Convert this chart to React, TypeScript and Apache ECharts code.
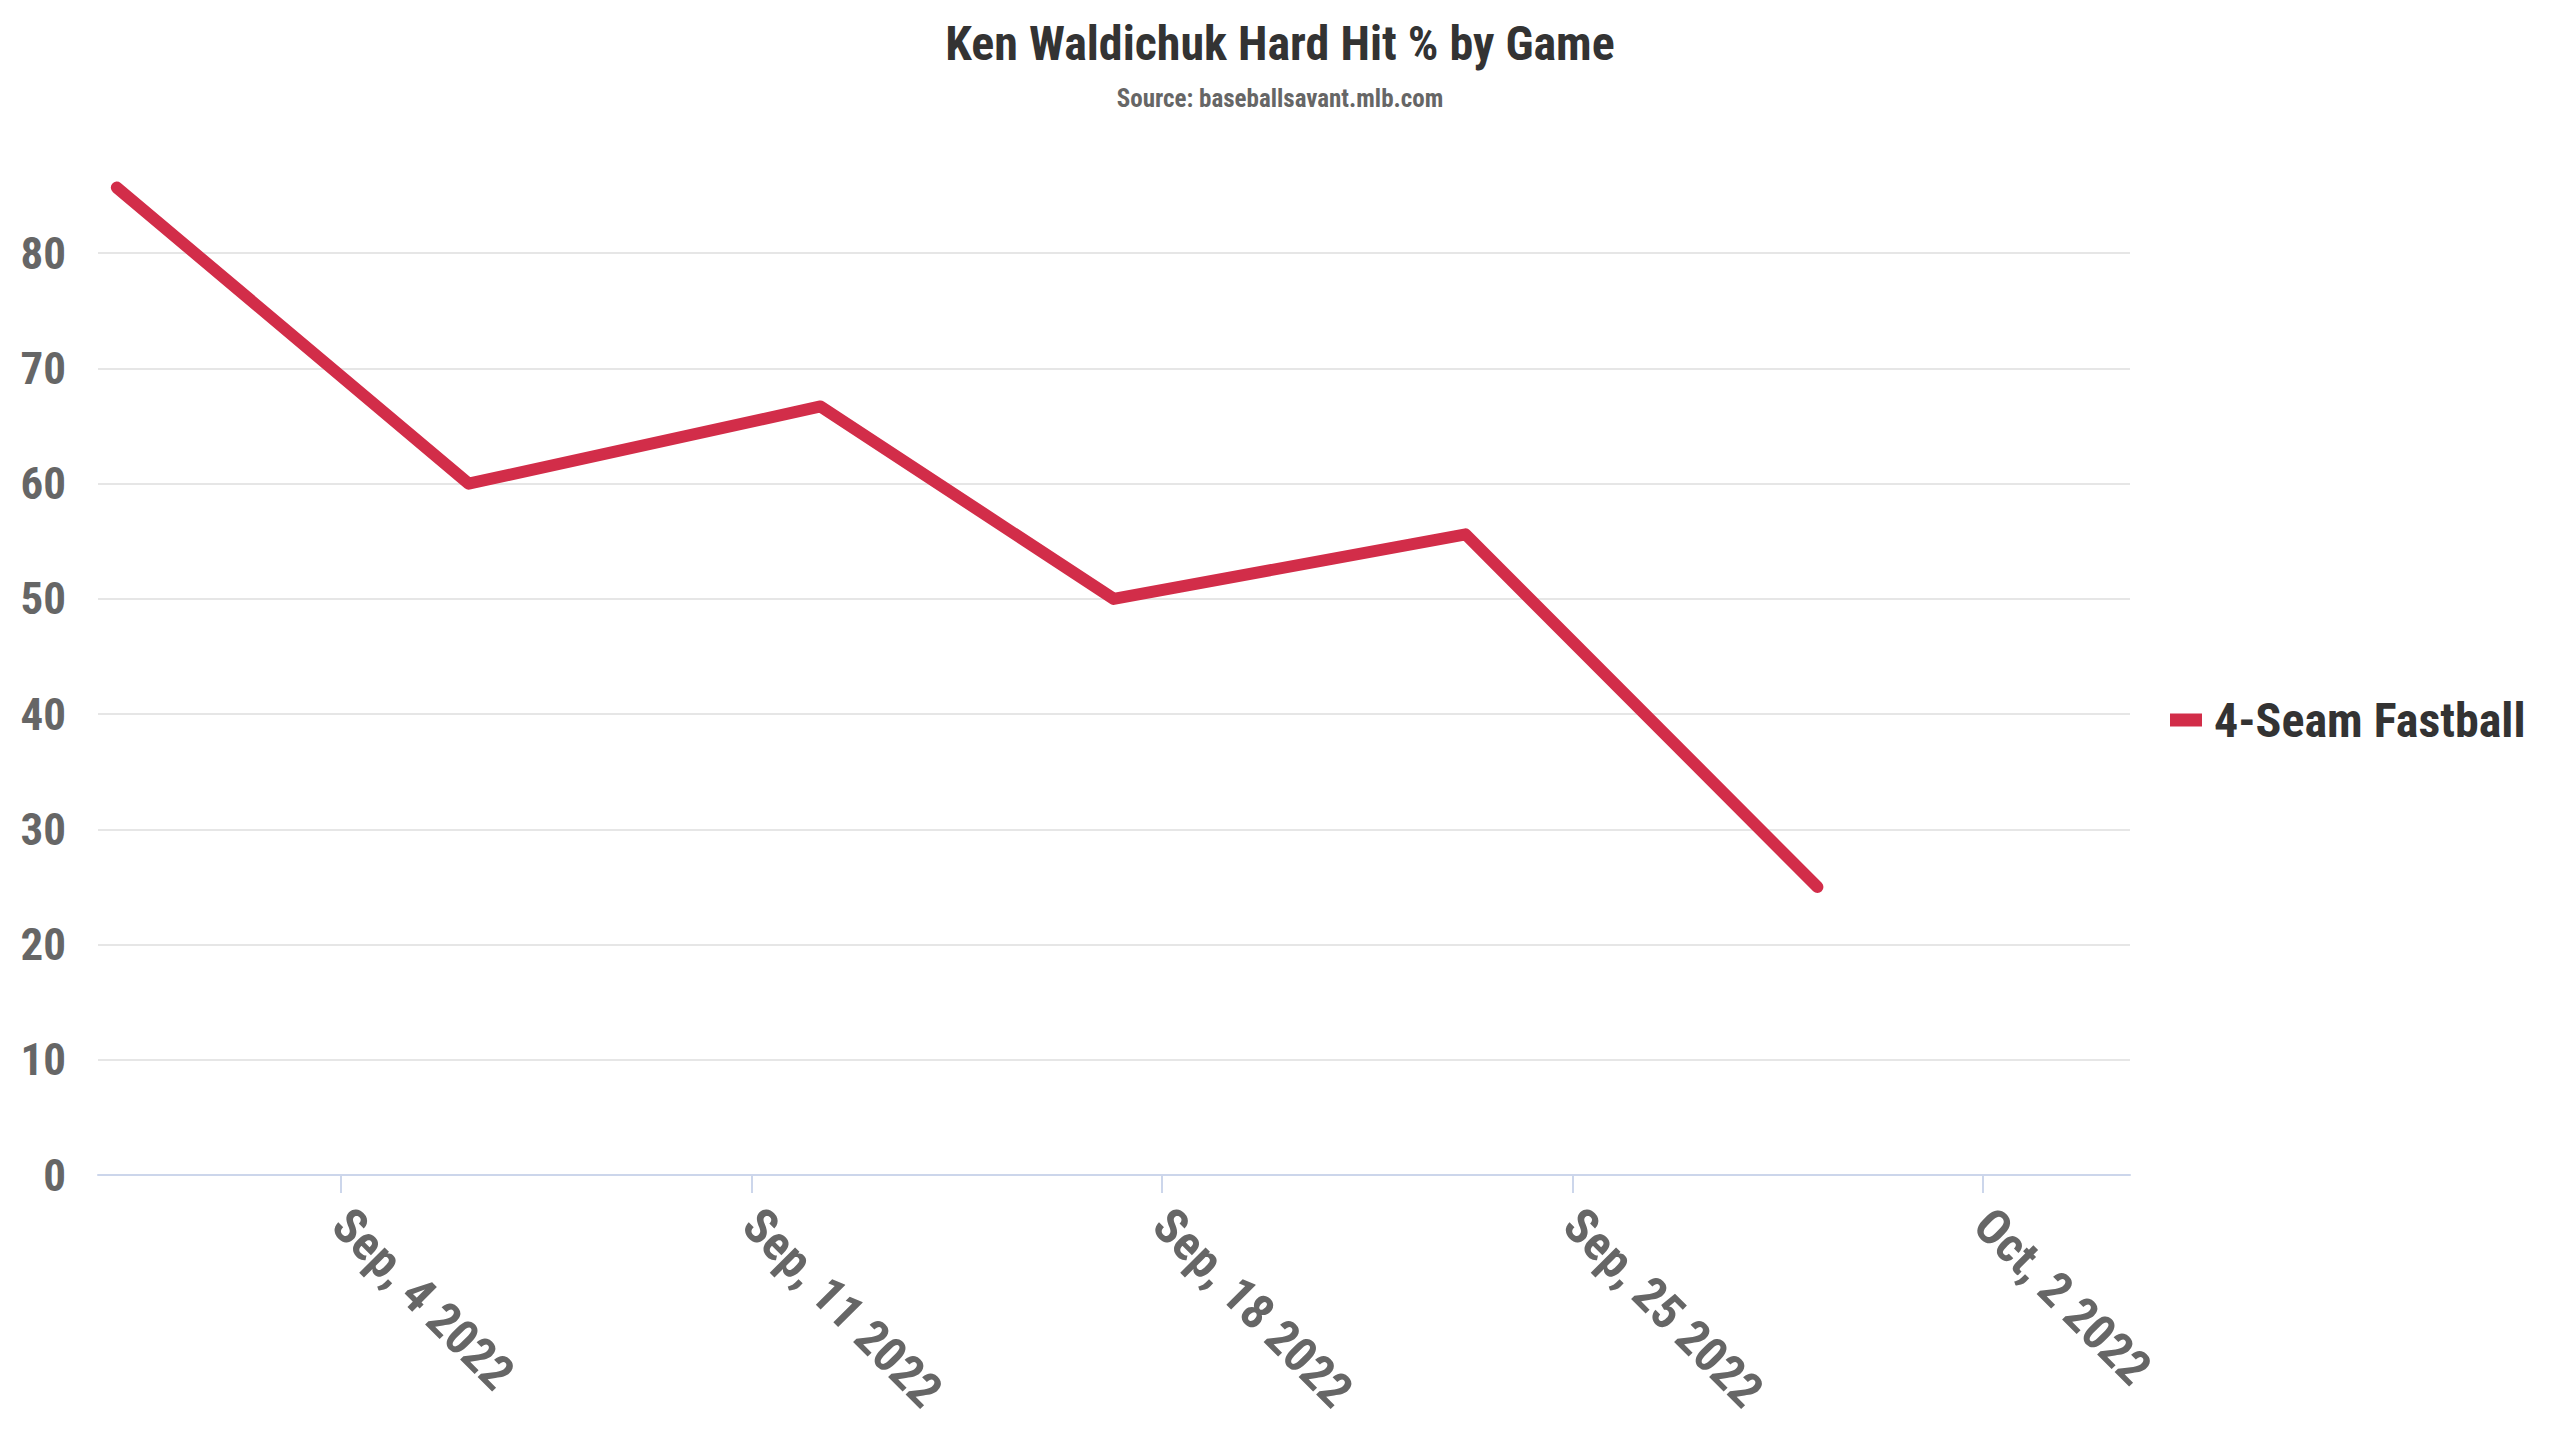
import React, { useEffect, useRef } from "react";
import * as echarts from "echarts";

const TITLE = "Ken Waldichuk Hard Hit % by Game";
const SUBTITLE = "Source: baseballsavant.mlb.com";
const SERIES_NAME = "4-Seam Fastball";

const GAME_TIMES = [
  "2022-08-31T04:20:00Z",
  "2022-09-06T04:20:00Z",
  "2022-09-12T04:20:00Z",
  "2022-09-17T04:20:00Z",
  "2022-09-23T04:20:00Z",
  "2022-09-29T04:20:00Z",
];
const HARD_HIT = [85.7, 60, 66.7, 50, 55.6, 25];

const TICK_DATES = [
  "2022-09-04T00:00:00Z",
  "2022-09-11T00:00:00Z",
  "2022-09-18T00:00:00Z",
  "2022-09-25T00:00:00Z",
  "2022-10-02T00:00:00Z",
];
const TICK_LABELS = ["Sep, 4 2022", "Sep, 11 2022", "Sep, 18 2022", "Sep, 25 2022", "Oct, 2 2022"];

const X_MIN = "2022-08-30T20:38:00Z";
const X_MAX = "2022-10-04T12:15:00Z";

const Y_MIN = 0;
const Y_MAX = 90;
const Y_STEP = 10;

const FONT = '"Roboto Condensed", "Liberation Sans Narrow", "DejaVu Sans Condensed", Roboto, sans-serif';
const LINE_COLOR = "#d22d49";

export default function App() {
  const ref = useRef<HTMLDivElement>(null);
  useEffect(() => {
    if (!ref.current) return;
    const chart = echarts.init(ref.current, null, { renderer: "svg" });
    const tickTs = TICK_DATES.map((d) => new Date(d).getTime());
    const option = {
      animation: false,
      backgroundColor: "#ffffff",
      title: {
        text: TITLE,
        subtext: SUBTITLE,
        left: "center",
        top: 14,
        itemGap: 19,
        textStyle: { fontFamily: FONT, fontSize: 48, fontWeight: "bold", color: "#333333" },
        subtextStyle: { fontFamily: FONT, fontSize: 25, fontWeight: "bold", color: "#666666" },
      },
      legend: {
        orient: "vertical",
        left: 2170,
        top: "middle",
        padding: 0,
        icon: "rect",
        itemWidth: 32,
        itemHeight: 13,
        selectedMode: false,
        textStyle: {
          fontFamily: FONT,
          fontSize: 48,
          fontWeight: "bold",
          color: "#333333",
          padding: [0, 0, 0, 7],
        },
        data: [SERIES_NAME],
      },
      grid: { left: 98, right: 430, top: 138, bottom: 265, containLabel: false },
      xAxis: {
        type: "value",
        min: new Date(X_MIN).getTime(),
        max: new Date(X_MAX).getTime(),
        axisLine: { show: true, lineStyle: { color: "#ccd6eb", width: 2 } },
        axisTick: { show: true, length: 18, lineStyle: { color: "#ccd6eb", width: 2 }, customValues: tickTs },
        axisLabel: {
          customValues: tickTs,
          rotate: -45,
          margin: 42,
          fontFamily: FONT,
          fontSize: 49,
          fontWeight: "bold",
          color: "#666666",
          formatter: (v: number) => {
            const i = tickTs.indexOf(v);
            return i >= 0 ? TICK_LABELS[i] : "";
          },
        },
        splitLine: { show: false },
      },
      yAxis: {
        type: "value",
        min: Y_MIN,
        max: Y_MAX,
        interval: Y_STEP,
        axisLine: { show: false },
        axisTick: { show: false },
        axisLabel: {
          margin: 32,
          showMaxLabel: false,
          fontFamily: FONT,
          fontSize: 45,
          fontWeight: "bold",
          color: "#666666",
        },
        splitLine: {
          show: true,
          showMaxLine: false,
          showMinLine: false,
          lineStyle: { color: "#e6e6e6", width: 2 },
        },
      },
      series: [
        {
          type: "line",
          name: SERIES_NAME,
          data: GAME_TIMES.map((t, i) => [new Date(t).getTime(), HARD_HIT[i]]),
          symbol: "none",
          showSymbol: false,
          itemStyle: { color: LINE_COLOR },
          lineStyle: { color: LINE_COLOR, width: 12, cap: "round", join: "round" },
        },
      ],
    };
    chart.setOption(option as any);
    return () => chart.dispose();
  }, []);
  return (
    <div
      ref={ref}
      style={{ position: "fixed", left: 0, top: 0, width: 2560, height: 1440, background: "#fff" }}
    />
  );
}
